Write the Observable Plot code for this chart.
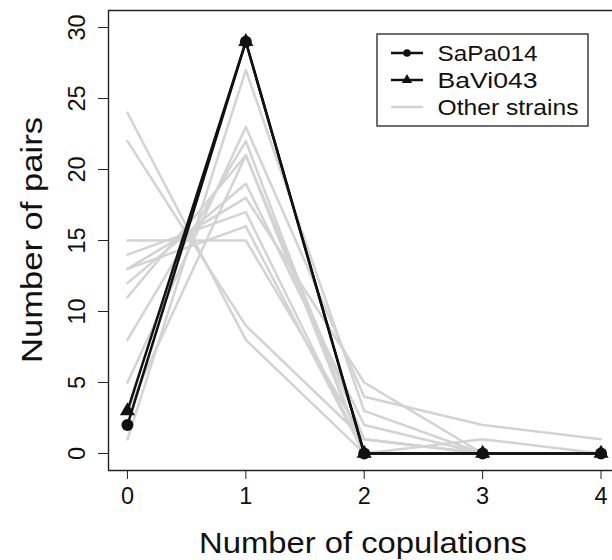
<!DOCTYPE html>
<html>
<head>
<meta charset="utf-8">
<script src="https://cdn.jsdelivr.net/npm/d3@7"></script>
<script src="https://cdn.jsdelivr.net/npm/@observablehq/plot@0.6"></script>
<style>
  html, body { margin: 0; padding: 0; background: #fff; }
  #chart { width: 612px; height: 560px; overflow: hidden; }
</style>
</head>
<body>
<div id="chart"></div>
<script>
// ---- data ----
const copulations = [0, 1, 2, 3, 4];
const sapa014 = [2, 29, 0, 0, 0];
const bavi043 = [3, 29, 0, 0, 0];
const otherStrainValues = [
  [24, 8, 0, 0, 0],
  [22, 9, 1, 0, 0],
  [15, 15, 1, 0, 0],
  [1, 27, 3, 0, 0],
  [5, 23, 4, 2, 1],
  [8, 22, 0, 1, 0],
  [11, 21, 1, 0, 0],
  [12, 19, 2, 0, 0],
  [13, 18, 5, 0, 0],
  [14, 17, 0, 0, 0],
  [3, 21, 0, 0, 0],
  [13, 16, 0, 0, 0]
];
const xTicks = [0, 1, 2, 3, 4];
const yTicks = [0, 5, 10, 15, 20, 25, 30];
const legendLabels = ["SaPa014", "BaVi043", "Other strains"];
const xTitle = "Number of copulations";
const yTitle = "Number of pairs";

// ---- tables ----
const toRows = (vals, name) => vals.map((v, i) => ({x: copulations[i], y: v, strain: name}));
const otherRows = otherStrainValues.flatMap((vals, k) => toRows(vals, "strain" + k));
const sapaRows = toRows(sapa014, "SaPa014");
const baviRows = toRows(bavi043, "BaVi043");

const xDomain = [-0.16, 4.097];
const yDomain = [-1.2, 31.2];
const axisColor = "#222";

const chart = Plot.plot({
  width: 612,
  height: 560,
  marginLeft: 108,
  marginRight: 0,
  marginTop: 10,
  marginBottom: 90,
  style: {fontFamily: "'Liberation Sans', Arial, sans-serif", fontSize: "23px", background: "#fff", color: "#111"},
  x: {domain: xDomain},
  y: {domain: yDomain},
  marks: [
    Plot.line(otherRows, {x: "x", y: "y", z: "strain", stroke: "#d3d3d3", strokeWidth: 2.5}),
    Plot.line(baviRows, {x: "x", y: "y", stroke: "#111", strokeWidth: 2.5}),
    Plot.line(sapaRows, {x: "x", y: "y", stroke: "#111", strokeWidth: 2.5}),
    Plot.dot(baviRows, {x: "x", y: "y", symbol: "triangle", r: 5.6, fill: "#111", stroke: "none"}),
    Plot.dot(sapaRows, {x: "x", y: "y", symbol: "circle", r: 6, fill: "#111", stroke: "none"}),
    Plot.ruleY([yDomain[1]], {stroke: axisColor, strokeWidth: 1.4}),
    Plot.ruleY([yDomain[0]], {stroke: axisColor, strokeWidth: 1.4}),
    Plot.ruleX([xDomain[0]], {stroke: axisColor, strokeWidth: 1.4}),
    Plot.axisX({ticks: xTicks, tickFormat: d3.format("d"), tickSize: 9, tickPadding: 8, fontSize: 23.5, label: null, stroke: axisColor}),
    Plot.axisY({ticks: yTicks, tickFormat: d3.format("d"), tickSize: 10, tickPadding: 14, tickRotate: -90, fontSize: 23.5, label: null, stroke: axisColor})
  ]
});

document.getElementById("chart").appendChild(chart);

// ---- titles and legend ----
const svg = d3.select(chart);
const ff = "'Liberation Sans', Arial, sans-serif";

svg.append("text")
  .attr("x", 363).attr("y", 552.5)
  .attr("text-anchor", "middle")
  .attr("font-family", ff).attr("font-size", 29)
  .attr("textLength", 328).attr("lengthAdjust", "spacingAndGlyphs")
  .attr("fill", "#111")
  .text(xTitle);

svg.append("text")
  .attr("transform", "translate(41.5,240) rotate(-90)")
  .attr("text-anchor", "middle")
  .attr("font-family", ff).attr("font-size", 29)
  .attr("textLength", 246).attr("lengthAdjust", "spacingAndGlyphs")
  .attr("fill", "#111")
  .text(yTitle);

const lg = svg.append("g").attr("text-anchor", "start");
lg.append("rect")
  .attr("x", 377).attr("y", 34).attr("width", 211).attr("height", 92)
  .attr("fill", "#fff").attr("stroke", axisColor).attr("stroke-width", 1.3);
const rowsY = [53, 80, 107];
const lineColors = ["#111", "#111", "#d3d3d3"];
legendLabels.forEach((lab, i) => {
  lg.append("line")
    .attr("x1", 391).attr("x2", 423).attr("y1", rowsY[i]).attr("y2", rowsY[i])
    .attr("stroke", lineColors[i]).attr("stroke-width", 2.5);
  if (i === 0) {
    lg.append("circle").attr("cx", 407).attr("cy", rowsY[i]).attr("r", 3.8).attr("fill", "#111");
  } else if (i === 1) {
    lg.append("path").attr("d", d3.symbol(d3.symbolTriangle, 45)()).attr("transform", `translate(407,${rowsY[i]})`).attr("fill", "#111");
  }
  lg.append("text")
    .attr("x", 437.5).attr("y", rowsY[i] + 8)
    .attr("text-anchor", "start")
    .attr("font-family", ff).attr("font-size", 22.5)
    .attr("textLength", i === 2 ? 141 : 100).attr("lengthAdjust", "spacingAndGlyphs")
    .attr("fill", "#111")
    .text(lab);
});
</script>
</body>
</html>
